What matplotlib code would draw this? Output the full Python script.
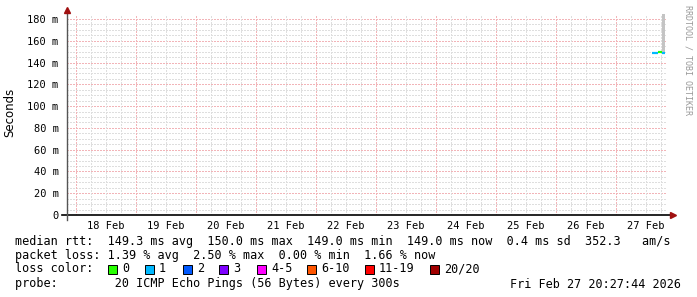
import datetime as dt
import matplotlib
matplotlib.use("Agg")
import matplotlib.pyplot as plt
from matplotlib.patches import Rectangle

# --- data -------------------------------------------------------------
now = dt.datetime(2026, 2, 27, 20, 27, 44)
# interval boundaries of the measured samples (step style like rrdtool)
bounds = ["2026-02-27 14:27", "2026-02-27 16:51", "2026-02-27 18:27", "2026-02-27 19:39"]
median_ms = [149.0, 149.6, 149.0]     # median rtt per interval
loss_cnt = [1, 0, 1]                  # lost pings (out of 20) per interval
smoke_lo = [149.0, 149.6, 149.0]      # smoke band per interval
smoke_hi = [149.0, 149.6, 195.0]

yticks = [0, 20, 40, 60, 80, 100, 120, 140, 160, 180]
loss_labels = ["0", "1", "2", "3", "4-5", "6-10", "11-19", "20/20"]
loss_colors = ["#26ff00", "#00b8ff", "#0059ff", "#7e00ff", "#ff00ff", "#ff5500", "#ff0000", "#a10000"]
loss_upper = [0, 1, 2, 3, 5, 10, 19, 20]

row1 = "median rtt:  149.3 ms avg  150.0 ms max  149.0 ms min  149.0 ms now  0.4 ms sd  352.3   am/s"
row2 = "packet loss: 1.39 % avg  2.50 % max  0.00 % min  1.66 % now"
row4 = "probe:        20 ICMP Echo Pings (56 Bytes) every 300s"
stamp = "Fri Feb 27 20:27:44 2026"

W, H = 697, 297
def fx(px): return px / W
def fy(py): return 1 - py / H

mono = "DejaVu Sans Mono"
minor_c = "#dedede"
major_c = "#f2b4b8"
dots = (0, (1.4, 1.4))

fig = plt.figure(figsize=(W / 100, H / 100), dpi=100)
fig.patch.set_facecolor("white")
ax = fig.add_axes([fx(67), fy(215), 600 / W, (215 - 14) / H])
ax.set_facecolor("white")

start = now - dt.timedelta(days=10)
ax.set_xlim(start, now)
ax.set_ylim(0, 184.6)

# grid
for v in range(5, 185, 5):
    if v % 20:
        ax.axhline(v, color=minor_c, lw=0.72, ls=dots, zorder=1, antialiased=False)
for v in yticks[1:]:
    ax.axhline(v, color=major_c, lw=0.72, ls=dots, zorder=1, antialiased=False)
t = dt.datetime(2026, 2, 17, 0, 0)
while t <= now:
    if t > start:
        c = major_c if t.hour == 0 else minor_c
        ax.axvline(t, color=c, lw=0.72, ls=dots, zorder=1, antialiased=False)
    t += dt.timedelta(hours=6)

# data: smoke + coloured median steps
tb = [dt.datetime.strptime(s, "%Y-%m-%d %H:%M") for s in bounds]
for i in range(len(median_ms)):
    if smoke_hi[i] > smoke_lo[i]:
        ax.fill_between([tb[i], tb[i + 1]], smoke_lo[i], smoke_hi[i],
                        color="#c4c4c4", lw=0, zorder=2)
    col = next(c for c, u in zip(loss_colors, loss_upper) if loss_cnt[i] <= u)
    ax.plot([tb[i], tb[i + 1]], [median_ms[i], median_ms[i]], color=col, lw=1.6,
            solid_capstyle="butt", zorder=3)

# axes / ticks
for s in ax.spines.values():
    s.set_visible(False)
ax.set_yticks(yticks)
ax.set_yticklabels([f"{v} m" if v else "0" for v in yticks], fontfamily=mono, fontsize=7.5)
noons = [dt.datetime(2026, 2, d, 12) for d in range(18, 28)]
ax.set_xticks(noons)
ax.set_xticklabels([n.strftime("%d %b") for n in noons], fontfamily=mono, fontsize=7.5)
ax.tick_params(axis="both", length=0, pad=6)
ax.tick_params(axis="x", pad=4)

ax.plot([-5 / 600, 1 + 4 / 600], [0, 0], color="black", lw=1.2, transform=ax.transAxes,
        clip_on=False, zorder=5)
ax.plot([0, 0], [-5 / 201, 1 + 3 / 201], color="#555555", lw=1.0, transform=ax.transAxes,
        clip_on=False, zorder=5)
ax.plot([1 + 6 / 600], [0], marker=">", ms=4, color="#a01010", transform=ax.transAxes,
        clip_on=False, zorder=6)
ax.plot([0], [1 + 4 / 201], marker="^", ms=4, color="#a01010", transform=ax.transAxes,
        clip_on=False, zorder=6)

fig.text(fx(10), fy(112), "Seconds", rotation=90, ha="center", va="center", fontsize=8.5)
fig.text(fx(688), fy(60), "RRDTOOL / TOBI OETIKER", rotation=270, ha="center", va="center",
         fontsize=6, fontfamily=mono, color="#999999")

# legend rows
fig.text(fx(15), fy(241), row1, fontfamily=mono, fontsize=8.5, va="center")
fig.text(fx(15), fy(256), row2, fontfamily=mono, fontsize=8.5, va="center")
fig.text(fx(15), fy(269), "loss color:", fontfamily=mono, fontsize=8.5, va="center")
sq_x = [108, 145, 183, 219, 257, 307, 365, 430]
for x, lab, col in zip(sq_x, loss_labels, loss_colors):
    fig.add_artist(Rectangle((fx(x), fy(273.5)), 9 / W, 9 / H, transform=fig.transFigure,
                             facecolor=col, edgecolor="black", lw=0.7))
    fig.text(fx(x + 14), fy(269), lab, fontfamily=mono, fontsize=8.5, va="center")
fig.text(fx(15), fy(284), row4, fontfamily=mono, fontsize=8.5, va="center")
fig.text(fx(681), fy(284), stamp, fontfamily=mono, fontsize=8.5, va="center", ha="right")

fig.savefig("out.png", dpi=100)
